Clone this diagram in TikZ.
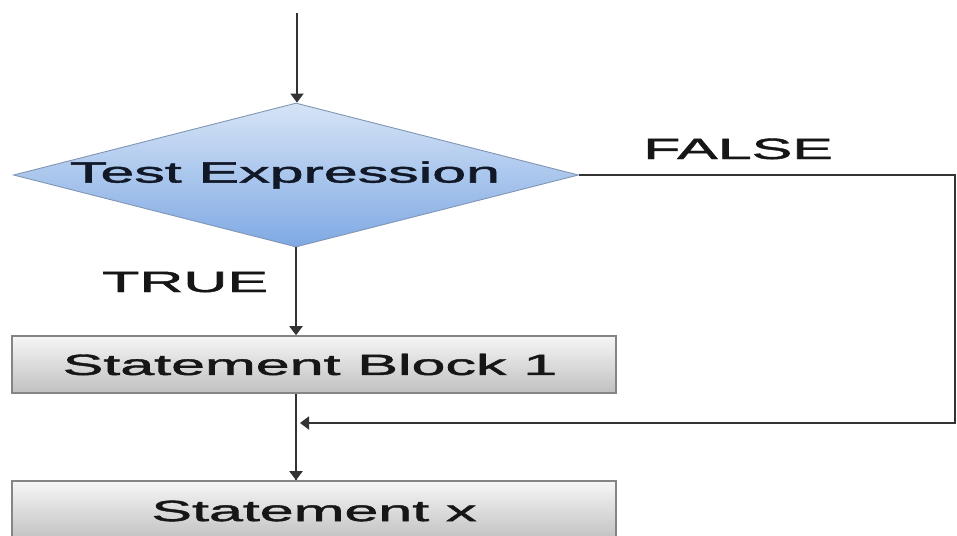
\documentclass[tikz,border=0pt]{standalone}
\usepackage{fontspec}
\setmainfont{Liberation Sans}
\newfontfamily\chartfont{Liberation Sans}[FakeBold=1.3]
\usetikzlibrary{shapes.geometric,arrows.meta}

\definecolor{linegray}{HTML}{333333}
\definecolor{boxedge}{HTML}{858585}
\definecolor{boxtop}{HTML}{F6F6F6}
\definecolor{boxbottom}{HTML}{C0C0C0}
\definecolor{diatop}{HTML}{D6E4F6}
\definecolor{diabottom}{HTML}{7FA9E4}
\definecolor{diaedge}{HTML}{8096B4}
\definecolor{textdark}{HTML}{161616}
\definecolor{textnavy}{HTML}{111827}

% wide lettering used throughout the chart
\newcommand{\widetext}[1]{\scalebox{2.08}[1]{#1}}

\tikzset{
  flowline/.style={draw=linegray, line width=1.9pt},
  flowarrow/.style={flowline, -{Triangle[width=13pt,length=9pt]}},
  decision/.style={diamond, draw=diaedge, line width=0.9pt,
    top color=diatop, bottom color=diabottom,
    minimum width=565pt, minimum height=144pt, inner sep=0pt,
    text=textnavy},
  stmtbox/.style={rectangle, draw=boxedge, line width=1.6pt,
    top color=boxtop, bottom color=boxbottom,
    minimum width=604pt, minimum height=57pt, inner sep=0pt,
    text=textdark},
  caption/.style={text=textdark, inner sep=0pt}
}

\begin{document}
\begin{tikzpicture}[x=1pt, y=-1pt, font=\chartfont\fontsize{29.3}{32}\selectfont]
  \useasboundingbox (0,0) rectangle (957,535);
  \clip (0,0) rectangle (957,535);
  \fill[white] (0,0) rectangle (957,535);

  % entry point
  \coordinate (start) at (297,13);

  % decision and statements
  \node[decision] (test) at (296,175)
    {\makebox[0pt]{\hspace*{-22pt}\widetext{Test Expression}}};
  \node[stmtbox] (b1) at (314,364.5) {\makebox[0pt]{\hspace*{-8pt}\widetext{Statement Block 1}}};
  \node[stmtbox, minimum height=60pt] (b2) at (314,511) {\widetext{Statement x}};

  % branch labels
  \node[caption, anchor=base west] (tlabel) at (102,292) {\widetext{TRUE}};
  \node[caption, anchor=base west] (flabel) at (643,159) {\widetext{FALSE}};

  % corner of the FALSE path and where it rejoins
  \coordinate (fcorner) at (955,423);
  \coordinate (join) at (300,423);

  % connectors
  \draw[flowarrow] (start) -- (start |- test.north);
  \draw[flowarrow] (test.south) -- (test.south |- b1.north);
  \draw[flowline] (test.south |- b1.south) -- (test.south |- b2.north);
  \draw[flowarrow] (test.south |- b2.north) ++(0,-30) -- (test.south |- b2.north);
  \draw[flowarrow] (test.east) -| (fcorner) -- (join);
\end{tikzpicture}
\end{document}
